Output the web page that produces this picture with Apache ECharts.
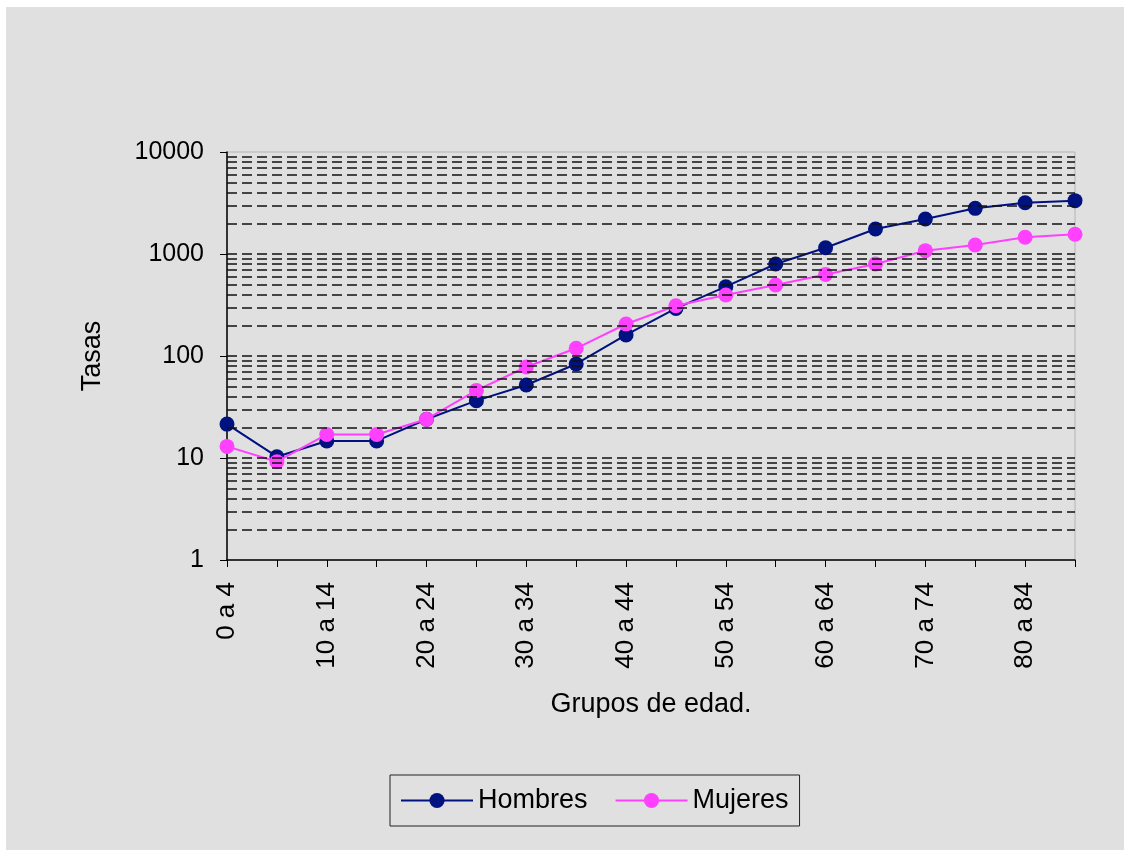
<!DOCTYPE html>
<html>
<head>
<meta charset="utf-8">
<script src="https://cdn.jsdelivr.net/npm/echarts@6/dist/echarts.min.js"></script>
<style>
html,body{margin:0;padding:0;background:#ffffff;}
#main{position:absolute;left:6px;top:7px;width:1118px;height:843px;background:#e0e0e0;}
</style>
</head>
<body>
<div id="main"></div>
<script>
// grupos de edad
var categories = ['0 a 4','5 a 9','10 a 14','15 a 19','20 a 24','25 a 29','30 a 34','35 a 39','40 a 44',
  '45 a 49','50 a 54','55 a 59','60 a 64','65 a 69','70 a 74','75 a 79','80 a 84','85 y más'];
var hombres = [21.5,10.3,14.7,14.7,24,36.5,52,83.5,161,293,478,798,1153,1758,2203,2803,3185,3335];
var mujeres = [13,9.2,17,17,24,46,78,119,206,311,396,497,631,798,1078,1225,1459,1560];
// lineas de rejilla (escala logaritmica)
var gridValues = [2,3,4,5,6,7,8,9,10,20,30,40,50,60,70,80,90,100,
  200,300,400,500,600,700,800,900,1000,2000,3000,4000,5000,6000,7000,8000,9000];

var myChart = echarts.init(document.getElementById('main'));
var font = 'Liberation Sans, Arial, sans-serif';

var option = {
  animation: false,
  backgroundColor: '#e0e0e0',
  grid: {
    left: 221, top: 145, width: 848, height: 408,
    show: true, borderColor: '#b4b4b4', borderWidth: 1, backgroundColor: 'transparent'
  },
  legend: {
    data: ['Hombres','Mujeres'],
    left: 384, top: 768,
    padding: [12, 11, 12, 10],
    itemGap: 27,
    itemWidth: 72, itemHeight: 19,
    borderColor: '#222', borderWidth: 1,
    textStyle: { fontFamily: font, fontSize: 27, color: '#000' }
  },
  xAxis: {
    type: 'category',
    data: categories,
    boundaryGap: false,
    name: 'Grupos de edad.',
    nameLocation: 'middle',
    nameGap: 131,
    nameTextStyle: { fontFamily: font, fontSize: 27, color: '#000' },
    axisLine: { lineStyle: { color: '#000', width: 1.5 } },
    axisTick: { interval: 0, length: 7, inside: false, lineStyle: { color: '#000' } },
    axisLabel: { interval: 1, rotate: 90, margin: 22, fontFamily: font, fontSize: 26, color: '#000' },
    splitLine: { show: false }
  },
  yAxis: {
    type: 'log',
    logBase: 10,
    min: 1, max: 10000,
    name: 'Tasas',
    nameLocation: 'middle',
    nameGap: 121,
    nameRotate: 90,
    nameTextStyle: { fontFamily: font, fontSize: 27, color: '#000' },
    axisLine: { show: true, lineStyle: { color: '#000', width: 1.5 } },
    axisTick: { show: true, length: 7, lineStyle: { color: '#000' } },
    axisLabel: {
      fontFamily: font, fontSize: 25, color: '#000', margin: 23,
      formatter: function(v){ return String(Math.round(v)); }
    },
    splitLine: { show: false }
  },
  series: [
    {
      name: 'rejilla',
      type: 'line',
      data: [],
      silent: true,
      z: 1,
      markLine: {
        silent: true,
        symbol: 'none',
        label: { show: false },
        lineStyle: { color: '#111', type: [10, 5], width: 1.6 },
        data: gridValues.map(function(v){ return { yAxis: v }; })
      }
    },
    {
      name: 'Hombres',
      type: 'line',
      data: hombres,
      symbol: 'circle',
      symbolSize: 15,
      z: 3,
      itemStyle: { color: '#001180' },
      lineStyle: { color: '#001180', width: 2 }
    },
    {
      name: 'Mujeres',
      type: 'line',
      data: mujeres,
      symbol: 'circle',
      symbolSize: 15,
      z: 4,
      itemStyle: { color: '#ff40ff' },
      lineStyle: { color: '#ff40ff', width: 2 }
    }
  ]
};
myChart.setOption(option);
</script>
</body>
</html>
